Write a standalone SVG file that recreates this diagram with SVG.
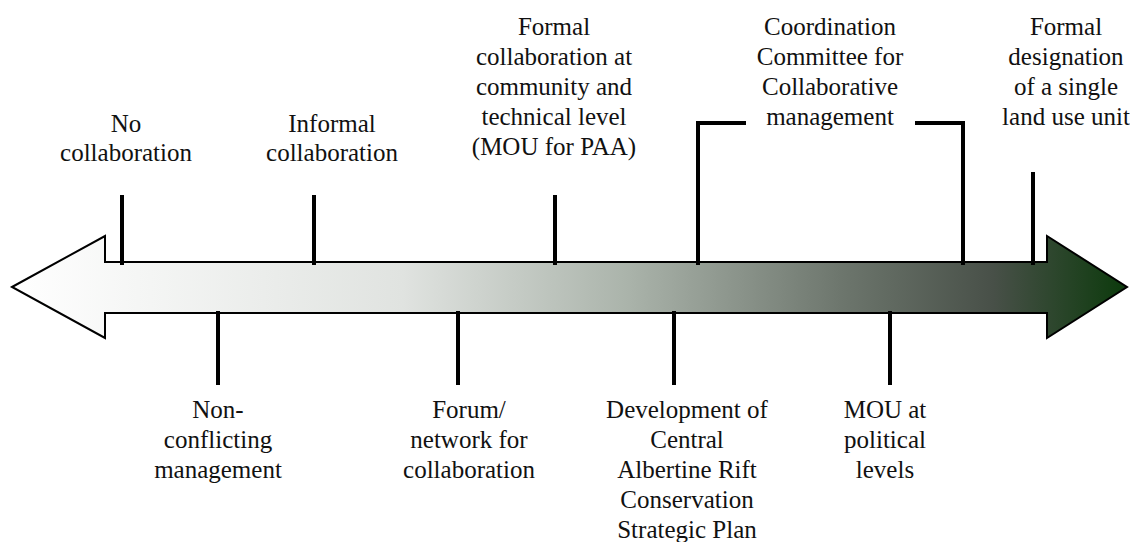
<svg xmlns="http://www.w3.org/2000/svg" width="1130" height="542" viewBox="0 0 1130 542">
<defs>
<linearGradient id="grad" gradientUnits="userSpaceOnUse" x1="12" y1="0" x2="1127" y2="0">
<stop offset="0" stop-color="#ffffff"/>
<stop offset="0.35" stop-color="#e0e3e0"/>
<stop offset="0.55" stop-color="#abb4ab"/>
<stop offset="0.75" stop-color="#6b746b"/>
<stop offset="0.88" stop-color="#485048"/>
<stop offset="1" stop-color="#0c3a0c"/>
</linearGradient>
<style>
.t{font-family:'Liberation Serif',serif;font-size:25px;fill:#111;text-anchor:middle}
.k{stroke:#000;stroke-width:4;fill:none}
</style>
</defs>
<rect width="1130" height="542" fill="#fff"/>
<g id="timeline-arrow">
<path d="M12,287 L105,236 L105,262 L1047,262 L1047,236 L1127,287 L1047,338 L1047,313 L105,313 L105,338 Z" fill="url(#grad)" stroke="#000" stroke-width="2" stroke-linejoin="miter"/>
</g>
<g id="connectors">
<line class="k" x1="122" y1="195" x2="122" y2="265"/>
<line class="k" x1="314" y1="195" x2="314" y2="265"/>
<line class="k" x1="555" y1="195" x2="555" y2="265"/>
<path class="k" d="M698,265 L698,123 L746,123"/>
<path class="k" d="M915,123 L963,123 L963,265"/>
<line class="k" x1="1033" y1="172" x2="1033" y2="265"/>
<line class="k" x1="218" y1="311" x2="218" y2="385"/>
<line class="k" x1="458" y1="311" x2="458" y2="385"/>
<line class="k" x1="674" y1="311" x2="674" y2="385"/>
<line class="k" x1="890" y1="311" x2="890" y2="385"/>
</g>
<g id="node-no-collaboration">
<text class="t" x="126" y="132">No</text>
<text class="t" x="126" y="161">collaboration</text>
</g>
<g id="node-informal">
<text class="t" x="332" y="132">Informal</text>
<text class="t" x="332" y="161">collaboration</text>
</g>
<g id="node-formal-community">
<text class="t" x="554" y="35">Formal</text>
<text class="t" x="554" y="65">collaboration at</text>
<text class="t" x="554" y="95">community and</text>
<text class="t" x="554" y="125">technical level</text>
<text class="t" x="554" y="155">(MOU for PAA)</text>
</g>
<g id="node-coordination">
<text class="t" x="830" y="35">Coordination</text>
<text class="t" x="830" y="65">Committee for</text>
<text class="t" x="830" y="95">Collaborative</text>
<text class="t" x="830" y="125">management</text>
</g>
<g id="node-formal-designation">
<text class="t" x="1066" y="35">Formal</text>
<text class="t" x="1066" y="65">designation</text>
<text class="t" x="1066" y="95">of a single</text>
<text class="t" x="1066" y="125">land use unit</text>
</g>
<g id="node-non-conflicting">
<text class="t" x="218" y="418">Non-</text>
<text class="t" x="218" y="448">conflicting</text>
<text class="t" x="218" y="478">management</text>
</g>
<g id="node-forum">
<text class="t" x="469" y="418">Forum/</text>
<text class="t" x="469" y="448">network for</text>
<text class="t" x="469" y="478">collaboration</text>
</g>
<g id="node-development">
<text class="t" x="687" y="418">Development of</text>
<text class="t" x="687" y="448">Central</text>
<text class="t" x="687" y="478">Albertine Rift</text>
<text class="t" x="687" y="508">Conservation</text>
<text class="t" x="687" y="538">Strategic Plan</text>
</g>
<g id="node-mou-political">
<text class="t" x="885" y="418">MOU at</text>
<text class="t" x="885" y="448">political</text>
<text class="t" x="885" y="478">levels</text>
</g>
</svg>
